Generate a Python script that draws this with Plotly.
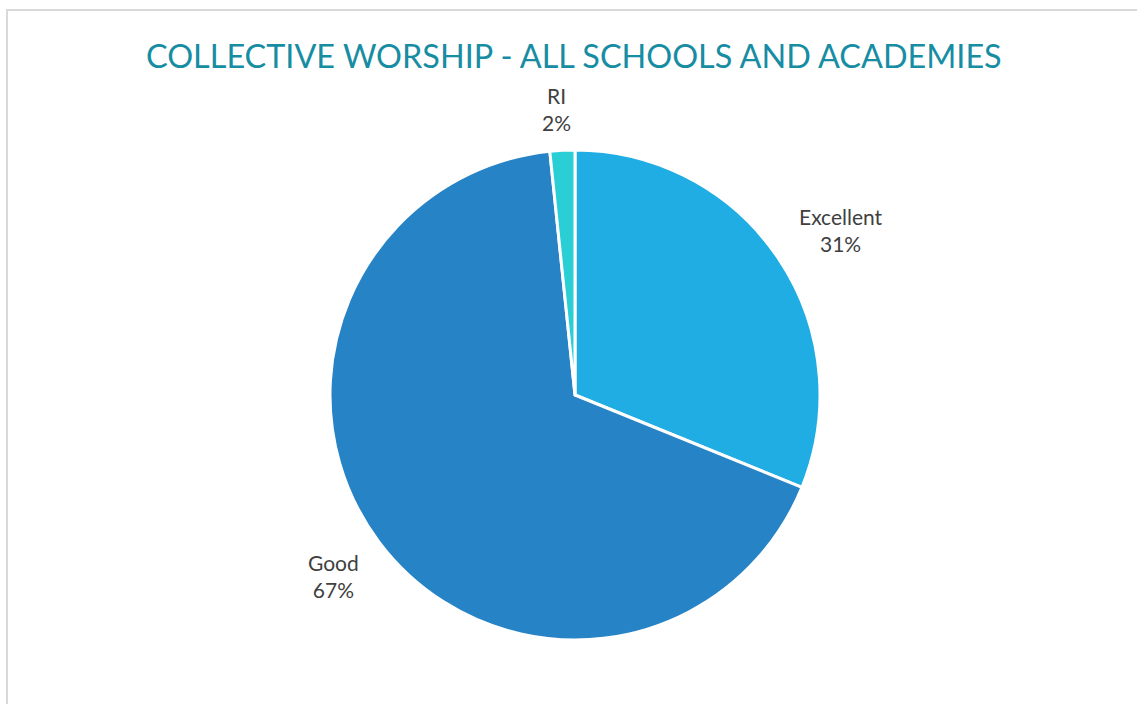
import plotly.graph_objects as go

labels = ["Excellent", "Good", "RI"]
values = [19, 41, 1]
colors = ["#1FADE4", "#2683C6", "#2ACFD6"]
title_text = "COLLECTIVE WORSHIP - ALL SCHOOLS AND ACADEMIES"

W, H = 1137, 704
cx, cy, r = 575, 395, 245

def px(x):
    return x / W

def py(y):
    return 1 - y / H

fig = go.Figure(go.Pie(
    labels=labels, values=values, sort=False, direction="clockwise", rotation=0,
    marker=dict(colors=colors, line=dict(color="white", width=3)),
    textinfo="none", hoverinfo="label+percent", showlegend=False,
    domain=dict(x=[px(cx - r), px(cx + r)], y=[py(cy + r), py(cy - r)]),
))

total = sum(values)
label_pos = {"Excellent": (841, 230), "Good": (333, 576), "RI": (556, 109)}
for lab, val in zip(labels, values):
    x, y = label_pos[lab]
    fig.add_annotation(
        x=px(x), y=py(y), xref="paper", yref="paper", showarrow=False,
        text=f"{lab}<br>{round(100 * val / total)}%",
        font=dict(family="Lato, Open Sans, sans-serif", size=21, color="#404040"),
        align="center", xanchor="center", yanchor="middle",
    )

fig.add_annotation(
    x=px(574), y=py(55), xref="paper", yref="paper", showarrow=False,
    text=title_text, xanchor="center", yanchor="middle",
    font=dict(family="Lato, Open Sans, sans-serif", size=32.4, color="#178DA3"),
)

fig.add_shape(type="rect", xref="paper", yref="paper",
              x0=px(7), y0=py(720), x1=px(1160), y1=py(10),
              line=dict(color="#D9D9D9", width=2), fillcolor="rgba(0,0,0,0)")

fig.update_layout(width=W, height=H, margin=dict(l=0, r=0, t=0, b=0),
                  paper_bgcolor="white", plot_bgcolor="white")
fig.write_html("out.html")
